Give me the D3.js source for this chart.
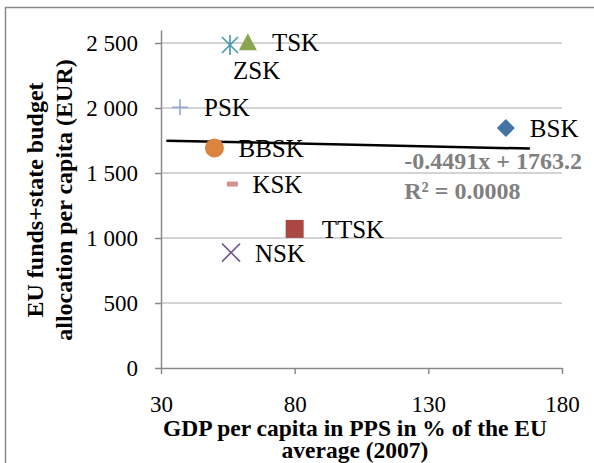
<!DOCTYPE html>
<html>
<head>
<meta charset="utf-8">
<script src="https://cdn.jsdelivr.net/npm/d3@7"></script>
<style>
  body { margin: 0; background: #fff; }
  svg { display: block; font-family: "Liberation Serif", "Times New Roman", serif; }
</style>
</head>
<body>
<div id="chart"></div>
<script>
    // regions (labels), x = GDP per capita in PPS (% of EU), y = allocation per capita (EUR)
    var regions = ["BSK", "TTSK", "TSK", "NSK", "ZSK", "BBSK", "PSK", "KSK"];
    var gdpValues = [159, 80, 62.5, 56.2, 55.8, 50, 37.1, 56.7];
    var allocValues = [1846, 1070, 2505, 888, 2485, 1692, 2005, 1415];
    var markerTypes = ["diamond", "square", "triangle", "cross", "star", "circle", "plus", "dash"];
    var colors = ["#4572A7", "#AA4643", "#89A54E", "#71588F", "#4198AF", "#DB843D", "#93A9CF", "#D19392"];

    var xTicks = [30, 80, 130, 180];
    var yTicks = [0, 500, 1000, 1500, 2000, 2500];
    var yTickLabels = ["0", "500", "1 000", "1 500", "2 000", "2 500"];

    // trendline y = slope*x + intercept
    var trendSlope = -0.4491, trendIntercept = 1763.2;
    var trendRange = [32, 168];
    var trendText = ["-0.4491x + 1763.2", "R² = 0.0008"];

    var width = 594, height = 463;
    var plot = { left: 161, right: 562, top: 30, bottom: 368 };

    var svg = d3.select("#chart").append("svg")
        .attr("width", width)
        .attr("height", height);

    svg.append("rect").attr("width", width).attr("height", height).attr("fill", "#fff");

    // outer frame (only left + top are visible in the crop)
    svg.append("rect")
        .attr("x", 5.5).attr("y", 7.5)
        .attr("width", width + 20).attr("height", height + 20)
        .attr("fill", "none").attr("stroke", "#8a8a8a").attr("stroke-width", 1.5);

    var x = d3.scaleLinear().domain([30, 180]).range([plot.left, plot.right]);
    var y = d3.scaleLinear().domain([0, 2600]).range([plot.bottom, plot.top]);

    // gridlines
    svg.append("g").selectAll("line")
        .data(yTicks.filter(function(d) { return d > 0; }))
        .enter().append("line")
        .attr("x1", plot.left).attr("x2", plot.right)
        .attr("y1", function(d) { return y(d); })
        .attr("y2", function(d) { return y(d); })
        .attr("stroke", "#c6c6c6").attr("stroke-width", 1.5);

    // y axis
    svg.append("g")
        .attr("class", "axis")
        .attr("transform", "translate(" + plot.left + ",0)")
        .call(d3.axisLeft(y).tickValues(yTicks).tickSize(6).tickSizeOuter(0).tickPadding(17)
            .tickFormat(function(d, i) { return yTickLabels[i]; }));

    // x axis
    svg.append("g")
        .attr("class", "axis")
        .attr("transform", "translate(0," + plot.bottom + ")")
        .call(d3.axisBottom(x).tickValues(xTicks).tickSize(6).tickSizeOuter(0).tickPadding(22));

    svg.selectAll(".axis path, .axis line")
        .attr("stroke", "#8a8a8a").attr("stroke-width", 1.5);
    svg.selectAll(".axis text")
        .attr("fill", "#000")
        .style("font-family", "'Liberation Serif', 'Times New Roman', serif")
        .style("font-size", "23px");

    // trendline
    svg.append("line")
        .attr("x1", x(trendRange[0])).attr("y1", y(trendSlope * trendRange[0] + trendIntercept))
        .attr("x2", x(trendRange[1])).attr("y2", y(trendSlope * trendRange[1] + trendIntercept))
        .attr("stroke", "#000").attr("stroke-width", 2.5);

    // markers
    function drawMarker(g, type, color) {
        if (type === "diamond") {
            g.append("path").attr("d", "M0,-9L9,0L0,9L-9,0Z").attr("fill", color);
        } else if (type === "square") {
            g.append("rect").attr("x", -9).attr("y", -9).attr("width", 18).attr("height", 18).attr("fill", color);
        } else if (type === "triangle") {
            g.append("path").attr("d", "M0,-9L9,8L-9,8Z").attr("fill", color);
        } else if (type === "circle") {
            g.append("circle").attr("r", 9.5).attr("fill", color);
        } else if (type === "cross") {
            g.append("path").attr("d", "M-9,-9L9,9M-9,9L9,-9").attr("stroke", color).attr("stroke-width", 1.6);
        } else if (type === "star") {
            g.append("path").attr("d", "M-8,-8L8,8M-8,8L8,-8M0,-10L0,10").attr("stroke", color).attr("stroke-width", 1.6);
        } else if (type === "plus") {
            g.append("path").attr("d", "M-8,0L8,0M0,-8L0,8").attr("stroke", color).attr("stroke-width", 1.6);
        } else if (type === "dash") {
            g.append("rect").attr("x", -5.5).attr("y", -2.5).attr("width", 11).attr("height", 5).attr("fill", color);
        }
    }

    var points = regions.map(function(r, i) {
        return { name: r, gdp: gdpValues[i], alloc: allocValues[i], type: markerTypes[i], color: colors[i] };
    });

    var pts = svg.append("g").selectAll("g")
        .data(points)
        .enter().append("g")
        .attr("transform", function(d) { return "translate(" + x(d.gdp) + "," + y(d.alloc) + ")"; });

    pts.each(function(d) { drawMarker(d3.select(this), d.type, d.color); });

    // data labels: to the right of the point, except ZSK which sits below
    var nudge = { ZSK: [3, 34], KSK: [20, 9], TTSK: [27, 9] };
    pts.append("text")
        .attr("x", function(d) { return nudge[d.name] ? nudge[d.name][0] : 24; })
        .attr("y", function(d) { return nudge[d.name] ? nudge[d.name][1] : 9; })
        .style("font-size", "25px")
        .attr("fill", "#000")
        .text(function(d) { return d.name; });

    // trendline equation
    var eq = svg.append("text")
        .attr("x", x(121))
        .attr("y", y(1500) - 4)
        .style("font-size", "24px")
        .style("font-weight", "bold")
        .attr("fill", "#808080");
    eq.selectAll("tspan")
        .data(trendText)
        .enter().append("tspan")
        .attr("x", x(121))
        .attr("dy", function(d, i) { return i === 0 ? 0 : 30; })
        .text(function(d) { return d; });

    // axis titles
    var xTitle = svg.append("text")
        .attr("text-anchor", "middle")
        .style("font-size", "23.5px")
        .style("font-weight", "bold");
    xTitle.append("tspan").attr("x", 355).attr("y", 436).text("GDP per capita in PPS in % of the EU");
    xTitle.append("tspan").attr("x", 355).attr("y", 458).text("average (2007)");

    var yTitle = svg.append("text")
        .attr("text-anchor", "middle")
        .attr("transform", "translate(0,200) rotate(-90)")
        .style("font-size", "24px")
        .style("font-weight", "bold");
    yTitle.append("tspan").attr("x", 0).attr("y", 43).text("EU funds+state budget");
    yTitle.append("tspan").attr("x", 0).attr("y", 72).text("allocation per capita (EUR)");
</script>
</body>
</html>
